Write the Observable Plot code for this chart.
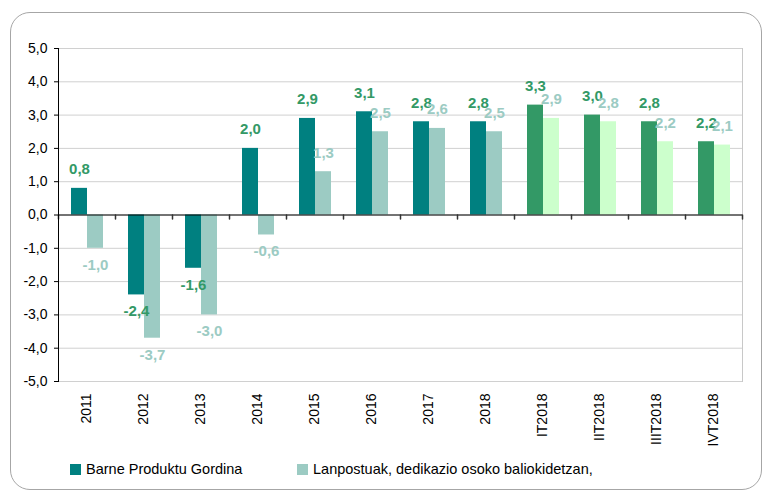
<!DOCTYPE html>
<html>
<head>
<meta charset="utf-8">
<script src="https://cdn.jsdelivr.net/npm/d3@7"></script>
<script src="https://cdn.jsdelivr.net/npm/@observablehq/plot@0.6"></script>
<style>
  html, body { margin: 0; padding: 0; background: #fff; }
  #wrap { position: relative; width: 763px; height: 490px; overflow: hidden; font-family: "Liberation Sans", Arial, sans-serif; }
  #box { position: absolute; left: 10px; top: 12px; width: 752px; height: 478px; border: 1.5px solid #a6a6a6; border-radius: 20px; box-sizing: border-box; }
  #chart { position: absolute; left: 0; top: 0; }
  #legend { position: absolute; top: 459px; left: 0; width: 763px; height: 20px; font-size: 14.5px; color: #000; }
  .item { position: absolute; top: 0; display: flex; align-items: center; height: 20px; }
  .sw { width: 11px; height: 11px; margin-right: 5px; }
</style>
</head>
<body>
<div id="wrap">
  <div id="box"></div>
  <div id="chart"></div>
  <div id="legend"></div>
</div>
<script>
const categories = ["2011","2012","2013","2014","2015","2016","2017","2018","IT2018","IIT2018","IIIT2018","IVT2018"];
const quarterly = [false,false,false,false,false,false,false,false,true,true,true,true];
const seriesNames = ["Barne Produktu Gordina", "Lanpostuak, dedikazio osoko baliokidetzan,"];
const gdp  = [0.8, -2.4, -1.6, 2.0, 2.9, 3.1, 2.8, 2.8, 3.3, 3.0, 2.8, 2.2];
const jobs = [-1.0, -3.7, -3.0, -0.6, 1.3, 2.5, 2.6, 2.5, 2.9, 2.8, 2.2, 2.1];
const yTicks = [-5,-4,-3,-2,-1,0,1,2,3,4,5];

const colorKeys = ["gdp-y", "gdp-q", "jobs-y", "jobs-q"];
const colorVals = ["#008080", "#339966", "#9ccbc3", "#ccffcc"];
const labelColors = {gdp: "#339966", jobs: "#9ccbc3"};

const rows = [];
categories.forEach((c, i) => {
  rows.push({cat: c, series: "gdp", value: gdp[i], key: "gdp-" + (quarterly[i] ? "q" : "y")});
  rows.push({cat: c, series: "jobs", value: jobs[i], key: "jobs-" + (quarterly[i] ? "q" : "y")});
});

const fmt = v => v.toFixed(1).replace(".", ",");
const tickShape = {draw(context, l) { context.moveTo(0, 0); context.lineTo(0, -l); }};

const labelMarks = [];
for (const s of ["gdp", "jobs"]) {
  labelMarks.push(Plot.text(rows, {filter: d => d.series === s && d.value >= 0, fx: "cat", x: "series", y: "value",
    text: d => fmt(d.value), dy: -19, fill: labelColors[s], fontWeight: "bold", fontSize: 15}));
  labelMarks.push(Plot.text(rows, {filter: d => d.series === s && d.value < 0, fx: "cat", x: "series", y: "value",
    text: d => fmt(d.value), dy: 16.5, fill: labelColors[s], fontWeight: "bold", fontSize: 15}));
}

const chart = Plot.plot({
  width: 763,
  height: 490,
  marginLeft: 54,
  marginRight: 17,
  marginTop: 48,
  marginBottom: 109,
  style: {fontFamily: "'Liberation Sans', Arial, sans-serif", fontSize: "14px", color: "#000", background: "transparent"},
  fx: {domain: categories, padding: 0, label: null},
  x: {domain: ["gdp", "jobs"], paddingInner: 0, paddingOuter: 0.72, axis: null},
  y: {domain: [-5, 5], label: null},
  color: {domain: colorKeys, range: colorVals},
  marks: [
    Plot.gridY(yTicks, {stroke: "#d0d0d0", strokeOpacity: 1}),
    Plot.frame({anchor: "right", facetAnchor: "right", stroke: "#c8c8c8"}),
    Plot.barY(rows, {fx: "cat", x: "series", y: "value", fill: "key"}),
    Plot.ruleY([0], {stroke: "#000", strokeWidth: 1.2}),
    Plot.vector([0], {y: d => d, frameAnchor: "left", length: 4, rotate: 180, anchor: "start", shape: tickShape, stroke: "#333"}),
    Plot.vector([0], {y: d => d, frameAnchor: "right", facetAnchor: "right", length: 4, rotate: 180, anchor: "start", shape: tickShape, stroke: "#333"}),
    Plot.frame({anchor: "left", facetAnchor: "left", stroke: "#000"}),
    Plot.axisY({ticks: yTicks, tickFormat: fmt, tickSize: 4, tickPadding: 7, fontSize: 14, label: null}),
    Plot.axisFx({anchor: "bottom", tickRotate: -90, tickSize: 0, tickPadding: 12, fontSize: 14, label: null}),
    ...labelMarks
  ]
});
document.getElementById("chart").appendChild(chart);

const legend = document.getElementById("legend");
const legendPos = [70, 297];
seriesNames.forEach((name, i) => {
  const item = document.createElement("div");
  item.className = "item";
  item.style.left = legendPos[i] + "px";
  const sw = document.createElement("div");
  sw.className = "sw";
  sw.style.background = colorVals[i * 2];
  const t = document.createElement("span");
  t.textContent = name;
  item.appendChild(sw);
  item.appendChild(t);
  legend.appendChild(item);
});
</script>
</body>
</html>
